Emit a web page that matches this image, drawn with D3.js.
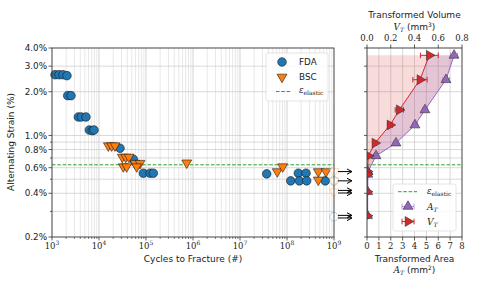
<!DOCTYPE html>
<html><head><meta charset="utf-8">
<script src="https://cdn.jsdelivr.net/npm/d3@7"></script>
<style>body{margin:0;background:#fff}svg{display:block}</style>
</head><body>
<svg id="c" width="480" height="288"></svg>
<script>
// ---------- data ----------
const fdaN = [1160,1410,1710,2080, 2160,2540, 3630,4200,5280, 6220,7200,7830, 28000, 53700, 87700,122000,143000, 3.7e7, 1.74e8,2.54e8, 1.2e8,1.83e8,2.62e8,6.5e8];
const fdaS = [2.62,2.62,2.62,2.58, 1.88,1.88, 1.34,1.34,1.34, 1.09,1.08,1.09, 0.816, 0.686, 0.55,0.55,0.55, 0.544, 0.55,0.55, 0.487,0.487,0.487,0.487];
const bscN = [15800,18600,21900, 31300,37000,43500, 58300,74500, 32900,38800,63400, 735000, 6.2e7, 8.1e7, 4.63e8,6.76e8, 4.63e8];
const bscS = [0.85,0.85,0.85, 0.71,0.71,0.71, 0.644,0.644, 0.61,0.61,0.61, 0.648, 0.564, 0.61, 0.564,0.564, 0.494];
const runoutN = 1e9;
const runBscS = [0.564, 0.487, 0.41];
const runFdaS = [0.487, 0.276];
const arrowS = [0.564, 0.487, 0.41, 0.276];
const arrowCount = [1, 1, 2, 2];
const elasticStrain = 0.628;
const yTickVals = [0.2,0.4,0.6,0.8,1.0,2.0,3.0,4.0];
const yTickLabels = ["0.2%","0.4%","0.6%","0.8%","1.0%","2.0%","3.0%","4.0%"];
const xTickExp = [3,4,5,6,7,8,9];
// transformed
const strainT = [3.56, 2.42, 1.50, 1.18, 0.886, 0.724, 0.564, 0.54, 0.41, 0.28];
const areaT   = [7.33, 6.65, 4.88, 4.04, 2.44, 0.76, 0.08, 0.07, 0.06, 0.05];
const areaErr = [0.3, 0.3, 0.2, 0.2, 0.2, 0.2, 0.05, 0.05, 0.05, 0.05];
const volT    = [0.525, 0.446, 0.272, 0.194, 0.067, 0.011, 0.003, 0.003, 0.002, 0.002];
const volErr  = [0.075, 0.06, 0.035, 0.02, 0.012, 0.006, 0.002, 0.002, 0.002, 0.002];
const areaTicks = [0,1,2,3,4,5,6,7,8];
const volTicks = [0.0,0.2,0.4,0.6,0.8];

// ---------- setup ----------
const svg = d3.select("#c");
const x = d3.scaleLog().domain([1e3,1e9]).range([52,334]);
const y = d3.scaleLog().domain([0.2,4.0]).range([237,48]);
const xA = d3.scaleLinear().domain([0,8]).range([367,462]);
const xV = d3.scaleLinear().domain([0,0.8]).range([367,462]);
const blue="#1f77b4", orange="#ff7f0e", red="#d62728", purple="#9467bd", green="#2ca02c";
const sans="DejaVu Sans, sans-serif", serif="DejaVu Serif, serif";

// minor y values
const yGrid = [];
[0.1,1].forEach(b=>{for(let k=1;k<=9;k++){const v=+(b*k).toFixed(2); if(v>=0.2&&v<=4.0) yGrid.push(v);}});
const xMinor=[]; for(let e=3;e<9;e++){for(let k=2;k<=9;k++) xMinor.push(k*Math.pow(10,e));}
const xMajor = xTickExp.map(e=>Math.pow(10,e));

// ---------- main panel grid ----------
const g = svg.append("g");
g.selectAll(".vm").data(xMinor).enter().append("line")
 .attr("x1",d=>x(d)).attr("x2",d=>x(d)).attr("y1",48).attr("y2",237)
 .attr("stroke","#dcdcdc").attr("stroke-width",0.7);
g.selectAll(".vM").data(xMajor).enter().append("line")
 .attr("x1",d=>x(d)).attr("x2",d=>x(d)).attr("y1",48).attr("y2",237)
 .attr("stroke","#c8c8c8").attr("stroke-width",0.8);
g.selectAll(".h").data(yGrid).enter().append("line")
 .attr("x1",52).attr("x2",334).attr("y1",d=>y(d)).attr("y2",d=>y(d))
 .attr("stroke","#cfcfcf").attr("stroke-width",0.8);

// elastic line
g.append("line").attr("x1",52).attr("x2",334).attr("y1",y(elasticStrain)).attr("y2",y(elasticStrain))
 .attr("stroke",green).attr("stroke-width",1).attr("stroke-dasharray","3.5,1.8");

// markers
const tri = d3.symbol().type(d3.symbolTriangle).size(42)();
function drawTri(sel, cx, cy, fill, stroke, op){
  sel.append("path").attr("d",tri).attr("transform",`translate(${cx},${cy}) rotate(180)`)
   .attr("fill",fill).attr("stroke",stroke).attr("stroke-width",0.6).attr("opacity",op);
}
fdaN.forEach((n,i)=>{
  g.append("circle").attr("cx",x(n)).attr("cy",y(fdaS[i])).attr("r",4.3)
   .attr("fill",blue).attr("stroke","#1a1a1a").attr("stroke-width",0.6);
});
bscN.forEach((n,i)=>drawTri(g,x(n),y(bscS[i]),orange,"#1a1a1a",1));
// runouts
runFdaS.forEach(s=>{
  g.append("circle").attr("cx",x(runoutN)).attr("cy",y(s)).attr("r",4.3)
   .attr("fill","#fff").attr("fill-opacity",0.6).attr("stroke",blue).attr("stroke-width",0.7).attr("stroke-opacity",0.45);
});
runBscS.forEach(s=>drawTri(g,x(runoutN),y(s),"rgba(255,255,255,0.6)","rgba(255,127,14,0.5)",1));
// arrows
arrowS.forEach((s,i)=>{
  const cy=y(s);
  const offs = arrowCount[i]===1?[0]:[-1.3,1.3];
  offs.forEach(o=>{
    g.append("line").attr("x1",338).attr("x2",351).attr("y1",cy+o).attr("y2",cy+o).attr("stroke","#000").attr("stroke-width",1);
    g.append("path").attr("d",`M${347},${cy+o-2.6} L${352},${cy+o} L${347},${cy+o+2.6}`).attr("fill","none").attr("stroke","#000").attr("stroke-width",1);
  });
});

// spines
g.append("rect").attr("x",52).attr("y",48).attr("width",282).attr("height",189).attr("fill","none").attr("stroke","#333").attr("stroke-width",0.8);
// ticks
g.selectAll(".xt").data(xMajor).enter().append("line").attr("x1",d=>x(d)).attr("x2",d=>x(d)).attr("y1",237).attr("y2",240.5).attr("stroke","#333").attr("stroke-width",0.8);
g.selectAll(".xtm").data(xMinor).enter().append("line").attr("x1",d=>x(d)).attr("x2",d=>x(d)).attr("y1",237).attr("y2",239).attr("stroke","#333").attr("stroke-width",0.6);
g.selectAll(".yt").data(yGrid).enter().append("line").attr("x1",52).attr("x2",d=>yTickVals.includes(d)?48.5:50).attr("y1",d=>y(d)).attr("y2",d=>y(d)).attr("stroke","#333").attr("stroke-width",0.8);
// tick labels
yTickVals.forEach((v,i)=>{
  g.append("text").attr("x",47).attr("y",y(v)+3.2).attr("text-anchor","end")
   .attr("font-family",sans).attr("font-size",8.8).attr("fill","#222").text(yTickLabels[i]);
});
xTickExp.forEach(e=>{
  const t=g.append("text").attr("x",x(Math.pow(10,e))).attr("y",249).attr("text-anchor","middle")
   .attr("font-family",serif).attr("font-size",8.5).attr("fill","#222");
  t.append("tspan").text("10");
  t.append("tspan").attr("dy",-4).attr("font-size",6).text(e);
});
g.append("text").attr("x",193).attr("y",262).attr("text-anchor","middle").attr("font-family",sans).attr("font-size",9).attr("fill","#222").text("Cycles to Fracture (#)");
g.append("text").attr("transform","translate(14,142) rotate(-90)").attr("text-anchor","middle").attr("font-family",sans).attr("font-size",9).attr("fill","#222").text("Alternating Strain (%)");

// main legend
const lg = g.append("g");
lg.append("rect").attr("x",266).attr("y",53).attr("width",62).attr("height",48).attr("rx",2)
 .attr("fill","#fff").attr("fill-opacity",0.85).attr("stroke","#dddddd").attr("stroke-width",0.8);
lg.append("circle").attr("cx",282).attr("cy",62).attr("r",4.3).attr("fill",blue).attr("stroke","#1a1a1a").attr("stroke-width",0.6);
lg.append("text").attr("x",299).attr("y",65.3).attr("font-family",sans).attr("font-size",8.8).attr("fill","#222").text("FDA");
drawTri(lg,282,77,orange,"#1a1a1a",1);
lg.append("text").attr("x",299).attr("y",80.3).attr("font-family",sans).attr("font-size",8.8).attr("fill","#222").text("BSC");
lg.append("line").attr("x1",276).attr("x2",291).attr("y1",91.5).attr("y2",91.5).attr("stroke",green).attr("stroke-width",1).attr("stroke-dasharray","3.5,1.8");
const le=lg.append("text").attr("x",299).attr("y",93).attr("font-family",serif).attr("font-size",8.5).attr("fill","#222");
le.append("tspan").attr("font-style","italic").text("ε");
le.append("tspan").attr("dy",2).attr("font-size",6).text("elastic");

// ---------- right panel ----------
const r = svg.append("g");
svg.append("defs").append("clipPath").attr("id","rc").append("rect").attr("x",367).attr("y",48).attr("width",95).attr("height",189);
areaTicks.forEach(a=>{
  r.append("line").attr("x1",xA(a)).attr("x2",xA(a)).attr("y1",48).attr("y2",237).attr("stroke","#cfcfcf").attr("stroke-width",0.8);
});
yGrid.forEach(v=>{
  r.append("line").attr("x1",367).attr("x2",462).attr("y1",y(v)).attr("y2",y(v)).attr("stroke","#cfcfcf").attr("stroke-width",0.8);
});
const rc = r.append("g").attr("clip-path","url(#rc)");
const idx = d3.range(strainT.length);
// pink fill 0 -> A
rc.append("path").attr("d", d3.area().x0(xA(0)).x1(i=>xA(areaT[i])).y(i=>y(strainT[i])).curve(d3.curveLinear)(idx))
  .attr("fill",red).attr("fill-opacity",0.16);
// purple fill V -> A
rc.append("path").attr("d", d3.area().x0(i=>xV(volT[i])).x1(i=>xA(areaT[i])).y(i=>y(strainT[i]))(idx))
  .attr("fill",purple).attr("fill-opacity",0.2);
rc.append("line").attr("x1",367).attr("x2",462).attr("y1",y(elasticStrain)).attr("y2",y(elasticStrain))
 .attr("stroke",green).attr("stroke-width",1).attr("stroke-dasharray","3.5,1.8");
// lines
rc.append("path").attr("d",d3.line().x(i=>xA(areaT[i])).y(i=>y(strainT[i]))(idx)).attr("fill","none").attr("stroke",purple).attr("stroke-width",1);
rc.append("path").attr("d",d3.line().x(i=>xV(volT[i])).y(i=>y(strainT[i]))(idx)).attr("fill","none").attr("stroke",red).attr("stroke-width",1);
// error bars
function errbar(sel, x0, x1, cy, col){
  sel.append("line").attr("x1",x0).attr("x2",x1).attr("y1",cy).attr("y2",cy).attr("stroke",col).attr("stroke-width",1);
  [x0,x1].forEach(xx=>sel.append("line").attr("x1",xx).attr("x2",xx).attr("y1",cy-2.8).attr("y2",cy+2.8).attr("stroke",col).attr("stroke-width",1));
}
const triSym = d3.symbol().type(d3.symbolTriangle).size(42)();
idx.forEach(i=>{
  const cy=y(strainT[i]);
  errbar(rc, xA(areaT[i]-areaErr[i]), xA(areaT[i]+areaErr[i]), cy, "#b79bd9");
  rc.append("path").attr("d",triSym).attr("transform",`translate(${xA(areaT[i])},${cy})`).attr("fill",purple).attr("stroke","#333").attr("stroke-width",0.6);
});
idx.forEach(i=>{
  const cy=y(strainT[i]);
  errbar(rc, xV(volT[i]-volErr[i]), xV(volT[i]+volErr[i]), cy, red);
  rc.append("path").attr("d",triSym).attr("transform",`translate(${xV(volT[i])},${cy}) rotate(90)`).attr("fill",red).attr("stroke","#333").attr("stroke-width",0.6);
});
// spines
r.append("rect").attr("x",367).attr("y",48).attr("width",95).attr("height",189).attr("fill","none").attr("stroke","#333").attr("stroke-width",0.8);
yTickVals.forEach(v=>r.append("line").attr("x1",367).attr("x2",364).attr("y1",y(v)).attr("y2",y(v)).attr("stroke","#333").attr("stroke-width",0.8));
areaTicks.forEach(a=>{
  r.append("line").attr("x1",xA(a)).attr("x2",xA(a)).attr("y1",237).attr("y2",240.5).attr("stroke","#333").attr("stroke-width",0.8);
  r.append("text").attr("x",xA(a)).attr("y",249).attr("text-anchor","middle").attr("font-family",serif).attr("font-size",8.5).attr("fill","#222").text(a);
});
volTicks.forEach(v=>{
  r.append("line").attr("x1",xV(v)).attr("x2",xV(v)).attr("y1",48).attr("y2",44.5).attr("stroke","#333").attr("stroke-width",0.8);
  r.append("text").attr("x",xV(v)).attr("y",41).attr("text-anchor","middle").attr("font-family",serif).attr("font-size",8.5).attr("fill","#222").text(v.toFixed(1));
});
r.append("text").attr("x",414.5).attr("y",18).attr("text-anchor","middle").attr("font-family",sans).attr("font-size",9).attr("fill","#222").text("Transformed Volume");
const vt=r.append("text").attr("x",414.5).attr("y",30).attr("text-anchor","middle").attr("font-family",sans).attr("font-size",9).attr("fill","#222");
vt.append("tspan").attr("font-family",serif).attr("font-style","italic").text("V");
vt.append("tspan").attr("font-family",serif).attr("font-style","italic").attr("font-size",6).attr("dy",2).text("T");
vt.append("tspan").attr("dy",-2).text(" (mm");
vt.append("tspan").attr("dy",-3.5).attr("font-size",6).text("3");
vt.append("tspan").attr("dy",3.5).text(")");
r.append("text").attr("x",414.5).attr("y",262).attr("text-anchor","middle").attr("font-family",sans).attr("font-size",9).attr("fill","#222").text("Transformed Area");
const at=r.append("text").attr("x",414.5).attr("y",273).attr("text-anchor","middle").attr("font-family",sans).attr("font-size",9).attr("fill","#222");
at.append("tspan").attr("font-family",serif).attr("font-style","italic").text("A");
at.append("tspan").attr("font-family",serif).attr("font-style","italic").attr("font-size",6).attr("dy",2).text("T");
at.append("tspan").attr("dy",-2).text(" (mm");
at.append("tspan").attr("dy",-3.5).attr("font-size",6).text("2");
at.append("tspan").attr("dy",3.5).text(")");

// right legend
const rl = r.append("g");
rl.append("rect").attr("x",393).attr("y",184).attr("width",63).attr("height",47).attr("rx",2)
 .attr("fill","#fff").attr("fill-opacity",0.85).attr("stroke","#dddddd").attr("stroke-width",0.8);
rl.append("line").attr("x1",398).attr("x2",417).attr("y1",191.7).attr("y2",191.7).attr("stroke",green).attr("stroke-width",1).attr("stroke-dasharray","3.5,1.8");
const re=rl.append("text").attr("x",427).attr("y",193.5).attr("font-family",serif).attr("font-size",8.5).attr("fill","#222");
re.append("tspan").attr("font-style","italic").text("ε");
re.append("tspan").attr("dy",2).attr("font-size",6).text("elastic");
errbar(rl,402,414,206.5,"#b79bd9");
rl.append("path").attr("d",triSym).attr("transform","translate(408,206.5)").attr("fill",purple).attr("stroke","#333").attr("stroke-width",0.6);
const ra=rl.append("text").attr("x",427).attr("y",209.5).attr("font-family",serif).attr("font-size",9).attr("font-style","italic").attr("fill","#222");
ra.append("tspan").text("A"); ra.append("tspan").attr("dy",2).attr("font-size",6).text("T");
errbar(rl,402,414,221.5,red);
rl.append("path").attr("d",triSym).attr("transform","translate(408,221.5) rotate(90)").attr("fill",red).attr("stroke","#333").attr("stroke-width",0.6);
const rv=rl.append("text").attr("x",427).attr("y",224.5).attr("font-family",serif).attr("font-size",9).attr("font-style","italic").attr("fill","#222");
rv.append("tspan").text("V"); rv.append("tspan").attr("dy",2).attr("font-size",6).text("T");
</script>
</body></html>
